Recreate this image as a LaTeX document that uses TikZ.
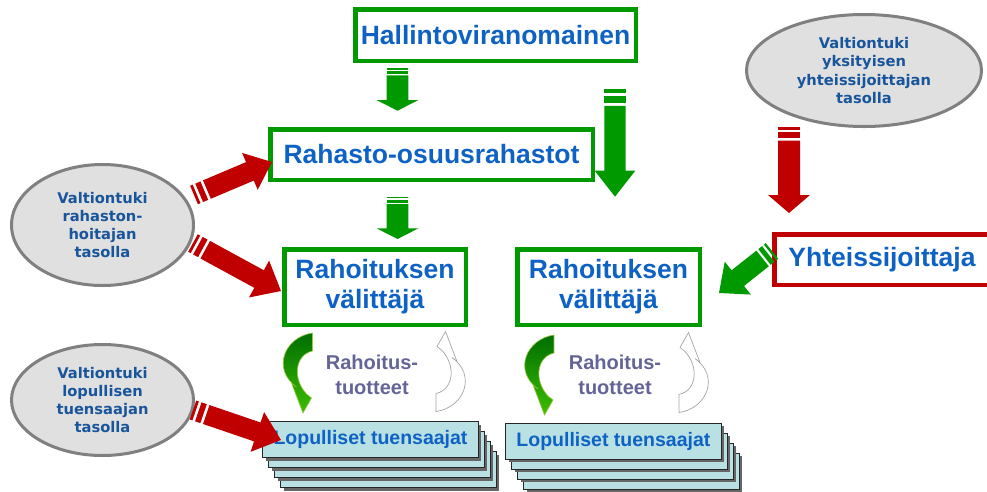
\documentclass[tikz,border=0pt]{standalone}
\usepackage{fontspec}
\setmainfont{Liberation Sans}
\newfontfamily\ellfont{DejaVu Sans}
\usetikzlibrary{calc,shapes.geometric,shadows}
\definecolor{boxgreen}{RGB}{0,153,0}
\definecolor{boxred}{RGB}{192,0,0}
\definecolor{txtblue}{RGB}{14,98,196}
\definecolor{elltxt}{RGB}{25,85,155}
\definecolor{ellfill}{RGB}{224,224,224}
\definecolor{ellline}{RGB}{128,128,128}
\definecolor{lopfill}{RGB}{185,224,227}
\definecolor{prodtxt}{RGB}{100,100,150}
\definecolor{gdark}{RGB}{0,110,0}
\definecolor{glight}{RGB}{60,190,0}
\definecolor{gedge}{RGB}{150,200,60}

% striped block arrow: #1 colour, #2 tail, #3 tip, #4 shaft half width, #5 head half width, #6 head length, #7 stripe unit
\newcommand{\blockarr}[7]{%
  \coordinate (bT) at (#2);
  \coordinate (bH) at (#3);
  \pgfmathsetmacro\baA{#7}%
  \pgfmathsetmacro\baB{2*#7}%
  \pgfmathsetmacro\baC{4*#7}%
  \pgfmathsetmacro\baD{5*#7}%
  \coordinate (bs1) at ($(bT)!\baA pt!(bH)$);
  \coordinate (bs2) at ($(bT)!\baB pt!(bH)$);
  \coordinate (bs4) at ($(bT)!\baC pt!(bH)$);
  \coordinate (bs5) at ($(bT)!\baD pt!(bH)$);
  \coordinate (bHb) at ($(bH)!#6pt!(bT)$);
  \fill[#1] ($(bT)!#4pt!90:(bH)$) -- ($(bT)!#4pt!-90:(bH)$) -- ($(bs1)!#4pt!-90:(bH)$) -- ($(bs1)!#4pt!90:(bH)$) -- cycle;
  \fill[#1] ($(bs2)!#4pt!90:(bH)$) -- ($(bs2)!#4pt!-90:(bH)$) -- ($(bs4)!#4pt!-90:(bH)$) -- ($(bs4)!#4pt!90:(bH)$) -- cycle;
  \fill[#1] ($(bs5)!#4pt!90:(bH)$) -- ($(bHb)!#4pt!90:(bH)$) -- ($(bHb)!#5pt!90:(bH)$) -- (bH) -- ($(bHb)!#5pt!-90:(bH)$) -- ($(bHb)!#4pt!-90:(bH)$) -- ($(bs5)!#4pt!-90:(bH)$) -- cycle;
}
\newcommand{\greencurv}[1]{%
  \begin{scope}[shift={(#1)}]
    \shade[top color=gdark,bottom color=glight,draw=gedge,line width=0.6pt]
      (14,-40) -- (14,-22) .. controls (-4,-18) and (-6,6) .. (8,21) -- (13,25) -- (4.5,40) -- (-7,10) -- (-2,14) .. controls (-27,-4) and (-14,-36) .. (14,-40) -- cycle;
  \end{scope}}
\newcommand{\whitecurv}[1]{%
  \begin{scope}[shift={(#1)},rotate=180]
    \filldraw[fill=white,draw=gray!70,line width=0.7pt]
      (14,-40) -- (14,-22) .. controls (-4,-18) and (-6,6) .. (8,21) -- (13,25) -- (4.5,40) -- (-7,10) -- (-2,14) .. controls (-27,-4) and (-14,-36) .. (14,-40) -- cycle;
  \end{scope}}

\tikzset{
  greenbox/.style={draw=boxgreen, line width=4.5pt, fill=white, text=txtblue, font=\fontsize{26.5}{30}\selectfont\bfseries, align=center, inner sep=0pt},
  redbox/.style={greenbox, draw=boxred},
  ell/.style={ellipse, draw=ellline, line width=3pt, fill=ellfill, text=elltxt, font=\ellfont\fontsize{14.7}{18.2}\selectfont\bfseries, align=center, inner sep=0pt},
  lopbox/.style={draw=black!85, line width=0.8pt, fill=lopfill, minimum width=215.6pt, minimum height=36pt, inner sep=0pt, text=txtblue, font=\fontsize{19.5}{23}\selectfont\bfseries, drop shadow={shadow xshift=3pt, shadow yshift=-3pt, fill=black!60, opacity=1}},
  prod/.style={text=prodtxt, font=\fontsize{20}{25}\selectfont\bfseries, align=center, inner sep=0pt}
}

\begin{document}
\begin{tikzpicture}[x=1pt,y=-1pt]
\useasboundingbox (0,0) rectangle (987,491);
\fill[white] (0,0) rectangle (987,491);

% ellipses
\node[ell, minimum width=182pt, minimum height=121pt] (e1) at (102.5,225) {Valtiontuki\\rahaston-\\hoitajan\\tasolla};
\node[ell, minimum width=182pt, minimum height=111pt] (e2) at (102.5,400) {Valtiontuki\\lopullisen\\tuensaajan\\tasolla};
\node[ell, minimum width=235pt, minimum height=112pt] (e3) at (864,70.5) {Valtiontuki\\yksityisen\\yhteissijoittajan\\tasolla};

% boxes
\node[greenbox, minimum width=280.5pt, minimum height=51.5pt] (hall) at (495.5,35) {Hallintoviranomainen};
\node[greenbox, minimum width=322.5pt, minimum height=50.5pt] (rah) at (431.5,154.5) {Rahasto-osuusrahastot};
\node[greenbox, minimum width=181.5pt, minimum height=75.5pt] (v1) at (375,287) {Rahoituksen\\välittäjä};
\node[greenbox, minimum width=182.5pt, minimum height=75.5pt] (v2) at (608.5,287) {Rahoituksen\\välittäjä};
\node[redbox, minimum width=215.5pt, minimum height=50.5pt] (yht) at (882,259.5) {Yhteissijoittaja};

% stacks of final recipients
\foreach \k in {3,2,1} {
  \node[lopbox] (la\k) at ({370.5+6*\k},{439.7+10*\k}) {};
  \node[lopbox] (lb\k) at ({613.4+6*\k},{441+10*\k}) {};
}
\node[lopbox] (la0) at (370.5,439.7) {Lopulliset tuensaajat};
\node[lopbox] (lb0) at (613.4,441) {Lopulliset tuensaajat};

% product labels
\node[prod] (p1) at (372,375) {Rahoitus-\\tuotteet};
\node[prod] (p2) at (615,375) {Rahoitus-\\tuotteet};

% curved arrows
\greencurv{298.5,373}
\whitecurv{450,371.5}
\greencurv{540,375}
\whitecurv{693,372.5}

% arrow end points
\coordinate (g1t) at (397.5,68.3);
\coordinate (g1h) at (397.5,110.7);
\coordinate (g2t) at (397.5,197);
\coordinate (g2h) at (397.5,239);
\coordinate (g3t) at (615,89.3);
\coordinate (g3h) at (615,196.7);
\coordinate (g4t) at (772,251);
\coordinate (g4h) at (719,293);
\coordinate (r0t) at (789,127);
\coordinate (r0h) at (789,213);
\coordinate (r1t) at (194,195);
\coordinate (r1h) at (272,162);
\coordinate (r2t) at (193,243);
\coordinate (r2h) at (281,291);
\coordinate (r3t) at (193,410);
\coordinate (r3h) at (281,440);

\blockarr{boxgreen}{g1t}{g1h}{10.8}{21}{10.7}{1.4}
\blockarr{boxgreen}{g2t}{g2h}{10.8}{21}{10.7}{1.4}
\blockarr{boxgreen}{g3t}{g3h}{10.7}{20.3}{26}{3.3}
\blockarr{boxgreen}{g4t}{g4h}{10}{21}{24}{2.4}
\blockarr{boxred}{r0t}{r0h}{11}{21}{18}{2.7}
\blockarr{boxred}{r1t}{r1h}{10}{20}{24}{2.8}
\blockarr{boxred}{r2t}{r2h}{10}{21}{25}{2.8}
\blockarr{boxred}{r3t}{r3h}{10}{21}{25}{2.8}
\end{tikzpicture}
\end{document}
